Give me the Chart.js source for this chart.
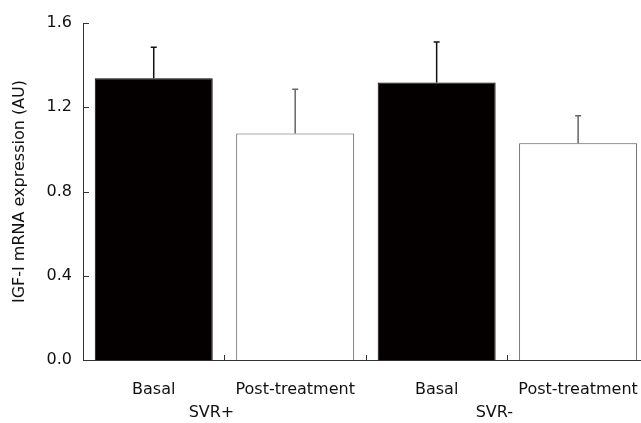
<!DOCTYPE html>
<html>
<head>
<meta charset="utf-8">
<script src="https://cdn.jsdelivr.net/npm/chart.js@4.4.1/dist/chart.umd.min.js"></script>
<style>
  html, body { margin:0; padding:0; background:#fff; overflow:hidden; }
  #wrap { width:650px; height:423px; }
</style>
</head>
<body>
<div id="wrap"><canvas id="barChart"></canvas></div>
<script>
const categories = ['Basal', 'Post-treatment', 'Basal', 'Post-treatment']
const groups = ['SVR+', 'SVR-']
const means = [1.338, 1.075, 1.317, 1.029]
const errors = [0.147, 0.21, 0.193, 0.131]
const yTicks = [0, 0.4, 0.8, 1.2, 1.6]

const FONT = 'DejaVu Sans'
const barFill = ['#040000', '#ffffff', '#040000', '#ffffff']
const barEdge = ['#040000', '#555555', '#040000', '#555555']
const errColor = ['#111111', '#666666', '#111111', '#666666']

// upward error bars with a small cap
const errorBars = {
  id: 'errorBars',
  afterDatasetsDraw(chart) {
    const ctx = chart.ctx
    const y = chart.scales.y
    chart.getDatasetMeta(0).data.forEach((bar, i) => {
      const top = y.getPixelForValue(means[i] + errors[i])
      ctx.save()
      ctx.strokeStyle = errColor[i]
      ctx.lineWidth = 1.5
      ctx.beginPath()
      ctx.moveTo(bar.x, bar.y)
      ctx.lineTo(bar.x, top)
      ctx.moveTo(bar.x - 3, top)
      ctx.lineTo(bar.x + 3, top)
      ctx.stroke()
      ctx.restore()
    })
  }
}

// tick marks pointing into the plot, plus the group labels
const innerTicks = {
  id: 'innerTicks',
  afterDraw(chart) {
    const ctx = chart.ctx
    const x = chart.scales.x, y = chart.scales.y
    const area = chart.chartArea
    ctx.save()
    ctx.strokeStyle = '#333'
    ctx.lineWidth = 1
    ctx.beginPath()
    yTicks.forEach(v => {
      const py = Math.round(y.getPixelForValue(v)) + 0.5
      ctx.moveTo(area.left, py)
      ctx.lineTo(area.left + 6, py)
    })
    for (let i = 0; i < categories.length - 1; i++) {
      const px = Math.round((x.getPixelForValue(i) + x.getPixelForValue(i + 1)) / 2) + 0.5
      ctx.moveTo(px, area.bottom)
      ctx.lineTo(px, area.bottom - 5)
    }
    ctx.stroke()
    ctx.fillStyle = '#111'
    ctx.font = '16px "' + FONT + '"'
    ctx.textAlign = 'center'
    ctx.textBaseline = 'middle'
    groups.forEach((g, k) => {
      const mid = (x.getPixelForValue(2 * k) + x.getPixelForValue(2 * k + 1)) / 2
      ctx.fillText(g, mid - 13, 413)
    })
    ctx.restore()
  }
}

new Chart(document.getElementById('barChart').getContext('2d'), {
  type: 'bar',
  data: {
    labels: categories,
    datasets: [{
      data: means,
      backgroundColor: barFill,
      borderColor: barEdge,
      borderWidth: 1,
      borderSkipped: 'bottom',
      categoryPercentage: 1,
      barPercentage: 0.834
    }]
  },
  options: {
    responsive: true,
    maintainAspectRatio: false,
    animation: false,
    layout: { padding: { left: 0, right: 1, top: 23, bottom: 0 } },
    plugins: { legend: { display:false }, tooltip: { enabled:false } },
    scales: {
      x: {
        grid: { display:false },
        border: { display:true, color:'#333', width:1 },
        ticks: { color:'#111', font:{ family:FONT, size:16 }, padding:12, maxRotation:0, autoSkip:false },
        afterFit: s => { s.height = 63 }
      },
      y: {
        min: 0, max: 1.6,
        grid: { display:false },
        border: { display:true, color:'#333', width:1 },
        afterBuildTicks: s => { s.ticks = yTicks.map(v => ({ value:v })) },
        ticks: { color:'#111', font:{ family:FONT, size:16 }, padding:3, callback: v => v.toFixed(1) },
        title: { display:true, text:'IGF-I mRNA expression (AU)', color:'#111', font:{ family:FONT, size:16 }, padding:{ top:10, bottom:0 } },
        afterFit: s => { s.width = 83 }
      }
    }
  },
  plugins: [errorBars, innerTicks]
})
</script>
</body>
</html>
